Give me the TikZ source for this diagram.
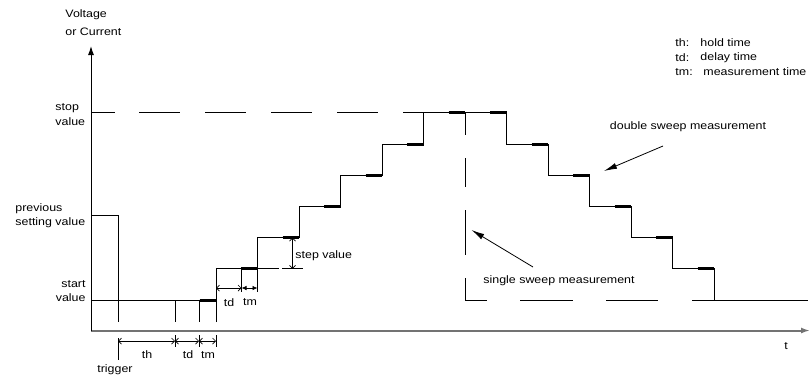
\documentclass[tikz,border=0pt]{standalone}
\usepackage{fontspec}
\setmainfont{Liberation Sans}[FakeStretch=1.15]
\usetikzlibrary{arrows.meta}
\begin{document}
\begin{tikzpicture}[x=1pt,y=-1pt,
  line width=0.9pt,
  meas/.style={line width=3pt},
  dim/.style={line width=0.7pt,{Straight Barb[length=3pt,width=6pt]}-{Straight Barb[length=3pt,width=6pt]}},
  dimf/.style={line width=0.7pt,{Latex[length=5pt,width=4.5pt]}-{Latex[length=5pt,width=4.5pt]}},
  lbl/.style={inner sep=0pt,font=\fontsize{10.8}{13}\selectfont},
  callout/.style={line width=0.8pt,-{Latex[length=13pt,width=6pt]}}]
\useasboundingbox (0,0) rectangle (810,376);
% axes
\coordinate (O) at (91,330.5);
\coordinate (ytop) at (91,46);
\coordinate (xend) at (810,330.5);
\draw[line width=2pt,black!55,-{Latex[length=9pt,width=6pt]}] (O) -- (xend);
\draw[line width=1pt,-{Latex[length=9pt,width=6pt]}] (91,331) -- (ytop);
% previous setting value and start level
\draw (91,215) -- (118,215) -- (118,322);
\draw (91,300) -- (199,300);
\draw (175,300) -- (175,322);
\draw (199,300) -- (199,322);
% staircase
\draw (216,322) -- (216,268.8) -- (257.5,268.8) -- (257.5,237.6) -- (299,237.6) -- (299,206.4)
  -- (340.5,206.4) -- (340.5,175.2) -- (382,175.2) -- (382,144) -- (423.5,144) -- (423.5,112.8)
  -- (506.5,112.8) -- (506.5,144) -- (548,144) -- (548,175.2) -- (589.5,175.2) -- (589.5,206.4)
  -- (631,206.4) -- (631,237.6) -- (672.5,237.6) -- (672.5,268.8) -- (714,268.8) -- (714,300) -- (808,300);
% measurement segments
\foreach \x/\y in {216/300, 257.5/268.8, 299/237.6, 340.5/206.4, 382/175.2, 423.5/144, 465/112.8,
  506.5/112.8, 548/144, 589.5/175.2, 631/206.4, 672.5/237.6, 714/268.8}
  \draw[meas] ({\x-16.5},\y) -- (\x,\y);
% step value extension
\draw (257.5,268.8) -- (279,268.8);
\draw (282,268.8) -- (303,268.8);
\draw (241.5,268.8) -- (241.5,292);
\draw (257.5,268.8) -- (257.5,292);
% dashed lines
\foreach \a/\b in {92/115, 139/180, 205/246, 271/312, 337/378, 403/423.5}
  \draw (\a,112.8) -- (\b,112.8);
\foreach \a/\b in {112.8/135, 158/187, 210/255, 278/300}
  \draw (465,\a) -- (465,\b);
\foreach \a/\b in {465/487, 520/573, 606/658, 692/714}
  \draw (\a,300) -- (\b,300);
% ticks below axis
\draw (118,338) -- (118,360);
\draw (175,335) -- (175,347);
\draw (199,335) -- (199,347);
\draw (216,335) -- (216,347);
% dimensions
\draw[dim] (118,341) -- (175,341);
\draw[dim] (175,341) -- (199,341);
\draw[dim] (199,341) -- (216,341);
\draw[dim] (216,288) -- (241.5,288);
\draw[dimf] (241.5,288) -- (257.5,288);
\draw[dim] (292.5,237.6) -- (292.5,268.8);
% labels
\node[lbl,anchor=west] (vl) at (65,15) {Voltage};
\node[lbl,anchor=west] (oc) at (65,32) {or Current};
\node[lbl,anchor=west] (stop1) at (55,108) {stop};
\node[lbl,anchor=west] (stop2) at (55,122) {value};
\node[lbl,anchor=west] (prev1) at (15,209) {previous};
\node[lbl,anchor=west] (prev2) at (15,223) {setting value};
\node[lbl,anchor=east] (start1) at (86,284) {start};
\node[lbl,anchor=east] (start2) at (86,298) {value};
\node[lbl] (th) at (147,355) {th};
\node[lbl] (td) at (188,355) {td};
\node[lbl] (tm) at (208,355) {tm};
\node[lbl] (trig) at (115,370) {trigger};
\node[lbl] (td2) at (229,303) {td};
\node[lbl] (tm2) at (250,302) {tm};
\node[lbl,anchor=west] (sv) at (295,256) {step value};
\node[lbl] (ssm) at (559,281) {single sweep measurement};
\node[lbl] (dsm) at (688,127) {double sweep measurement};
\node[lbl] (t) at (786,346) {t};
\node[lbl,anchor=west] (l1a) at (675,43) {th:};
\node[lbl,anchor=west] (l1b) at (700,43) {hold time};
\node[lbl,anchor=west] (l2a) at (675,57.5) {td:};
\node[lbl,anchor=west] (l2b) at (700,57.5) {delay time};
\node[lbl,anchor=west] (l3a) at (675,72) {tm:};
\node[lbl,anchor=west] (l3b) at (703,72) {measurement time};
% callout arrows
\coordinate (ds0) at (663,146);
\coordinate (ds1) at (604,171);
\coordinate (ss0) at (533,267);
\coordinate (ss1) at (471.5,230);
\draw[callout] (ds0) -- (ds1);
\draw[callout] (ss0) -- (ss1);
\end{tikzpicture}
\end{document}
